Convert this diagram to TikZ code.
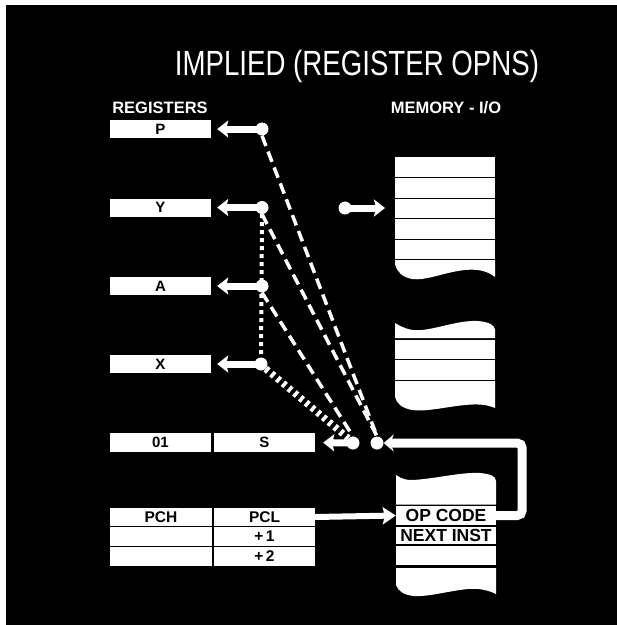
\documentclass[tikz,border=0pt]{standalone}
\usepackage{fontspec}
\setmainfont{Liberation Sans}
\usetikzlibrary{arrows.meta}
\begin{document}
\begin{tikzpicture}[x=1pt,y=-1pt,
 cell/.style={fill=white,inner sep=0pt,minimum height=18pt,text=black,font=\bfseries\fontsize{15}{15}\selectfont},
 regbox/.style={cell,minimum width=101pt},
 pcbox/.style={cell,minimum height=18.5pt,font=\bfseries\fontsize{15.5}{15.5}\selectfont},
 memrow/.style={fill=white,inner sep=0pt,minimum width=100pt,minimum height=19.5pt,text=black,font=\bfseries\fontsize{17.5}{17.5}\selectfont},
 dotc/.style={circle,fill=white,inner sep=0pt,minimum size=13pt},
 feed/.style={white,line width=7pt,-{Stealth[length=11pt,width=17pt,inset=2pt]}},
 dashl/.style={white,line width=3.5pt,dash pattern=on 11pt off 6pt},
 hatchl/.style={white,line width=7pt,dash pattern=on 3.5pt off 4pt},
 dotl/.style={white,line width=4pt,dash pattern=on 4pt off 4pt},
 loopl/.style={white,line width=9pt,rounded corners=5pt,-{Stealth[length=10pt,width=17pt]}},
 pcl/.style={white,line width=6pt,-{Stealth[length=13pt,width=17pt,inset=2pt]}},
 memfill/.style={fill=white}
]
\useasboundingbox (0,0) rectangle (617,625);
\fill[white] (0,0) rectangle (617,625);
\fill[black] (6,5) rectangle (617,625);

% titles
\node[white,font=\fontsize{35}{35}\selectfont] (title) at (357,66) {\scalebox{0.79}[1]{IMPLIED (REGISTER OPNS)}};
\node[white,font=\bfseries\fontsize{16.5}{16.5}\selectfont] (regs) at (160,108) {REGISTERS};
\node[white,font=\bfseries\fontsize{16.5}{16.5}\selectfont] (mem) at (446,108) {MEMORY - I/O};

% registers
\node[regbox] (P) at (160.5,129) {P};
\node[regbox] (Y) at (160.5,207.5) {Y};
\node[regbox] (A) at (160.5,286) {A};
\node[regbox] (X) at (160.5,364) {X};
\node[regbox,minimum height=19pt] (O1) at (160.5,442.5) {01};
\node[regbox,minimum height=19pt] (S) at (264.5,442.5) {S};
\node[pcbox,minimum width=102pt] (PCH) at (161,517) {PCH};
\node[pcbox,minimum width=101pt] (PCL) at (264.5,517) {PCL};
\node[pcbox,minimum width=102pt] (b1) at (161,536.5) {};
\node[pcbox,minimum width=101pt] (p1) at (264.5,536.5) {+\,1};
\node[pcbox,minimum width=102pt] (b2) at (161,556.25) {};
\node[pcbox,minimum width=101pt] (p2) at (264.5,556.25) {+\,2};

% memory block 1
\node[memrow] (m1a) at (445,166.75) {};
\node[memrow] (m1b) at (445,187.75) {};
\node[memrow] (m1c) at (445,208.25) {};
\node[memrow] (m1d) at (445,228.75) {};
\node[memrow] (m1e) at (445,249.25) {};
\fill[memfill] (395,260) -- (495,260) -- (495,277) .. controls (486,270) and (476,269) .. (465,270)
  .. controls (445,272) and (426,281) .. (412,279) .. controls (402,277) and (397,272) .. (395,264) -- cycle;

% memory block 2
\fill[memfill] (395,323) .. controls (405,329) and (412,331) .. (422,330) .. controls (440,328) and (460,320) .. (478,321)
  .. controls (489,322) and (495,325) .. (495,330) -- (495,338) -- (395,338) -- cycle;
\node[memrow] (m2a) at (445,349.25) {};
\node[memrow] (m2b) at (445,370) {};
\fill[memfill] (395,381) -- (495,381) -- (495,408) .. controls (486,404) and (476,404) .. (465,405)
  .. controls (445,407) and (426,412) .. (412,410) .. controls (402,408) and (397,404) .. (395,397) -- cycle;

% memory block 3
\fill[memfill] (396,475) .. controls (402,479) and (406,480) .. (412,480) .. controls (435,479) and (460,472) .. (480,473)
  .. controls (490,474) and (496,476) .. (496,481) -- (496,504.5) -- (396,504.5) -- cycle;
\node[memrow,minimum height=19pt] (opc) at (446,515.5) {OP CODE};
\node[memrow,minimum height=17.5pt] (nxt) at (446,535.25) {NEXT INST};
\node[memrow,minimum height=19pt] (m3c) at (446,555.25) {};
\fill[memfill] (396,568) -- (496,568) -- (496,594) .. controls (488,590) and (478,588) .. (468,589)
  .. controls (448,591) and (428,597) .. (414,596) .. controls (404,595) and (398,591) .. (396,585) -- cycle;

% dots
\node[dotc] (Pd) at (262,129) {};
\node[dotc] (Yd) at (262,207.5) {};
\node[dotc] (Ad) at (262,286) {};
\node[dotc] (Xd) at (261,364) {};
\node[dotc] (Ld) at (353,443) {};
\node[dotc] (Rd) at (377,443) {};
\node[dotc] (Md) at (345,208) {};
\coordinate (m1in) at (395,208);

% register feeds
\draw[feed,shorten >=6pt] (Pd.center) -- (P.east);
\draw[feed,shorten >=6pt] (Yd.center) -- (Y.east);
\draw[feed,shorten >=6pt] (Ad.center) -- (A.east);
\draw[feed,shorten >=6pt] (Xd.center) -- (X.east);
\draw[feed,shorten >=8pt] (Ld.center) -- (S.east);
\draw[feed,shorten >=10pt] (Md.center) -- (m1in);

% transfer paths
\draw[dotl] (Yd.south) -- (Xd.north);
\draw[dashl] (Pd.south) -- (Rd.north);
\draw[dashl] (Yd.south) -- (Rd.north);
\draw[dashl] (Ad.south) -- (Ld.north);
\draw[hatchl] (Xd.south east) -- (Ld.north west);

% program counter to op code, op code loop back
\draw[pcl] (PCL.east) -- (opc.west);
\draw[loopl] (opc.east) -- ++(26,0) |- (Rd.east);
\end{tikzpicture}
\end{document}
